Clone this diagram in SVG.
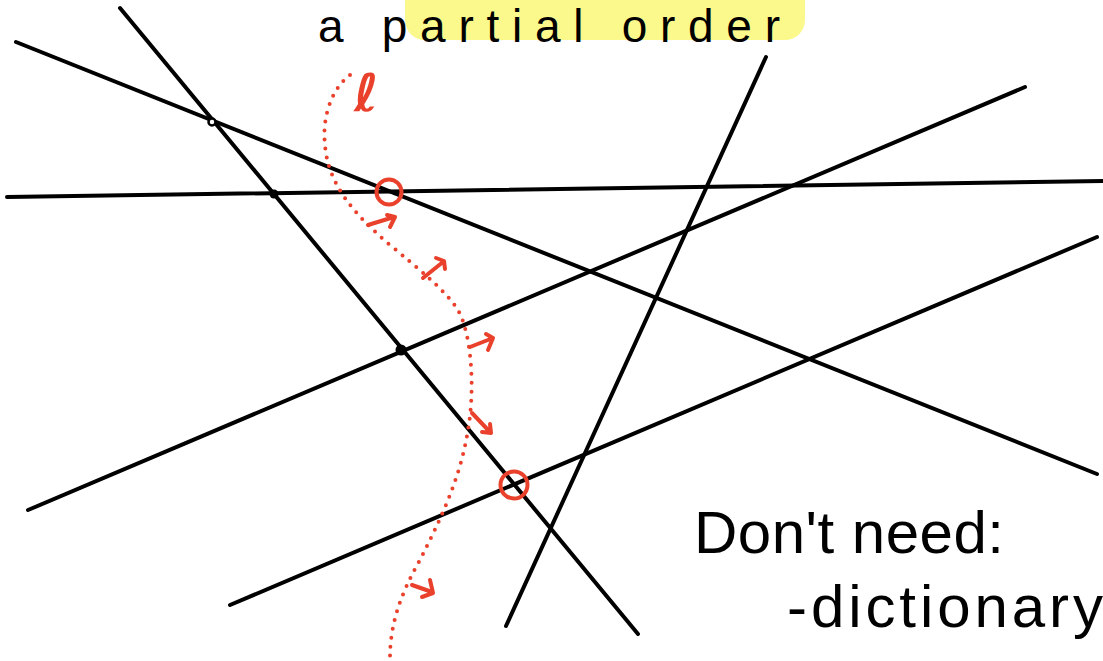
<svg xmlns="http://www.w3.org/2000/svg" width="1103" height="661" viewBox="0 0 1103 661">
<style>
.ln{stroke:#000;stroke-width:4;fill:none;stroke-linecap:round}
.red{stroke:#e9412b;fill:none;stroke-width:4;stroke-linecap:round;stroke-linejoin:round}
.dot{stroke:#e9412b;fill:none;stroke-width:4;stroke-linecap:round;stroke-dasharray:0 9}
.hand{font-family:"Liberation Sans","DejaVu Sans",sans-serif;fill:#000}
</style>
<rect width="1103" height="661" fill="#fff"/>
<g id="title">
<rect x="405" y="-20" width="400" height="60" rx="20" fill="#fbf88c"/>
<text class="hand" x="318" y="42" font-size="46" textLength="462" lengthAdjust="spacing">a partial order</text>
</g>
<g id="lines">
<line class="ln" x1="16" y1="42" x2="1097" y2="474"/>
<line class="ln" x1="120" y1="8" x2="638" y2="634"/>
<line class="ln" x1="7" y1="197" x2="1103" y2="181"/>
<line class="ln" x1="28" y1="510" x2="1025" y2="87"/>
<line class="ln" x1="230" y1="605" x2="1097" y2="237"/>
<line class="ln" x1="506" y1="626" x2="766" y2="57"/>
</g>
<g id="vertices">
<circle cx="212" cy="122" r="3.5" fill="#fff" stroke="#000" stroke-width="2.5"/>
<circle cx="274" cy="194" r="4.5" fill="#000"/>
<circle cx="401" cy="350" r="5.5" fill="#000"/>
<circle cx="389" cy="192" r="12.5" class="red"/>
<circle cx="514" cy="485" r="13.5" class="red"/>
</g>
<g id="sweep">
<path class="dot" d="M350,75 C330,90 322,120 325,145 C328,185 355,215 390,245 C420,270 445,290 458,310 C472,335 475,390 468,430 C460,480 440,520 420,560 C400,595 390,625 390,658"/>
<text x="354" y="111" font-family="DejaVu Sans, sans-serif" font-size="52" font-weight="bold" fill="#e9412b">ℓ</text>
<path class="red" d="M368,225 L394,217 M387,215 L395,217 L390,227"/>
<path class="red" d="M423,278 L443,262 M436,258 L444,261 L445,269"/>
<path class="red" d="M470,347 L493,338 M486,334 L493,338 L488,350"/>
<path class="red" d="M472,413 L490,432 M482,432 L491,433 L490,424"/>
<path class="red" d="M412,585 L432,592 M430,580 L433,593 L422,597"/>
</g>
<g id="notes">
<text class="hand" x="694" y="553" font-size="60" textLength="310" lengthAdjust="spacing">Don't need:</text>
<text class="hand" x="787" y="627" font-size="60" textLength="316" lengthAdjust="spacing">-dictionary</text>
</g>
</svg>
